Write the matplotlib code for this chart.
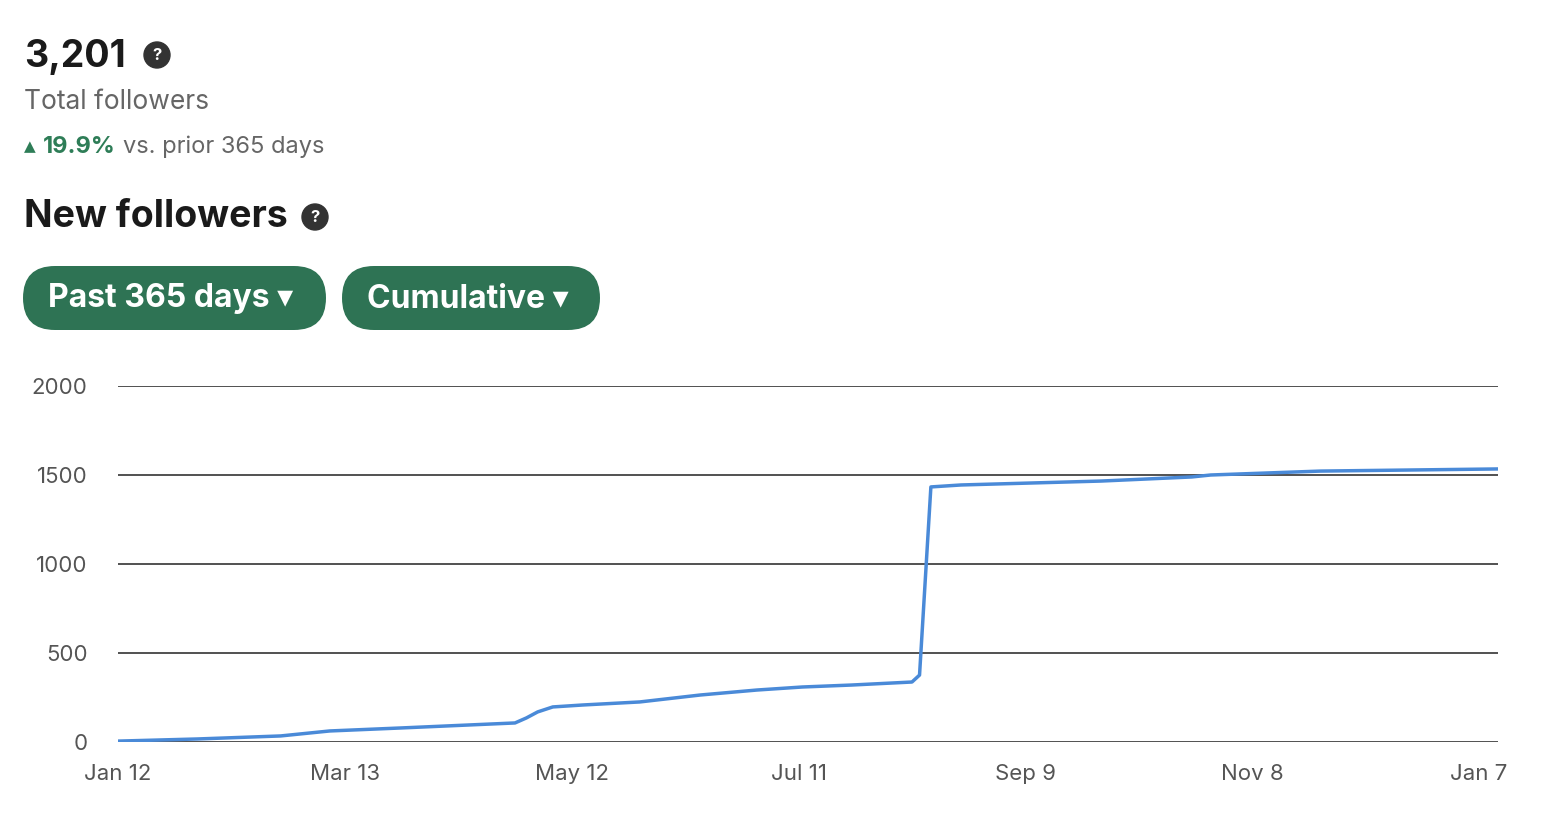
import matplotlib
matplotlib.use("Agg")
import matplotlib.pyplot as plt
from matplotlib.patches import FancyBboxPatch

days = [0, 21, 43, 56, 75, 105, 108, 111, 115, 123, 138, 154, 169, 181, 194, 210, 212, 215, 223, 260, 284, 289, 318, 365]
values = [5, 17, 34, 62, 79, 107, 135, 169, 197, 208, 225, 264, 292, 309, 320, 337, 376, 1433, 1444, 1466, 1489, 1500, 1522, 1534]
tick_days = [0, 60, 120, 180, 240, 300, 360]
tick_labels = ["Jan 12", "Mar 13", "May 12", "Jul 11", "Sep 9", "Nov 8", "Jan 7"]
y_ticks = [0, 500, 1000, 1500, 2000]

plt.rcParams['font.family'] = ['Inter', 'DejaVu Sans']
W, H = 1545, 825
fig = plt.figure(figsize=(15.45, 8.25), dpi=100)

ov = fig.add_axes([0, 0, 1, 1])
ov.set_xlim(0, W); ov.set_ylim(H, 0); ov.axis('off')

ov.text(24, 57, "3,201", fontsize=27, fontweight='bold', color='#1a1a1a', va='center')
ov.add_patch(plt.Circle((157, 55), 13, color='#333333'))
ov.text(157, 56, "?", fontsize=12, fontweight='bold', color='white', va='center', ha='center')
ov.text(24, 102, "Total followers", fontsize=19, color='#666666', va='center')
ov.text(24, 147, "▲", fontsize=11, color='#2e7d57', va='center', family=['DejaVu Sans'])
ov.text(43, 147, "19.9%", fontsize=17, fontweight='bold', color='#2e7d57', va='center')
ov.text(123, 147, "vs. prior 365 days", fontsize=17, color='#666666', va='center')
ov.text(24, 217, "New followers", fontsize=27, fontweight='bold', color='#1a1a1a', va='center')
ov.add_patch(plt.Circle((315, 217), 13, color='#333333'))
ov.text(315, 218, "?", fontsize=12, fontweight='bold', color='white', va='center', ha='center')

for x0, x1, label in [(23, 326, "Past 365 days"), (342, 600, "Cumulative")]:
    p = FancyBboxPatch((x0, 266), x1 - x0, 64, boxstyle="round,pad=0,rounding_size=32",
                       fc='#2e7354', ec='none')
    ov.add_patch(p)
    ov.text(x0 + 25, 299, label + " ▾", fontsize=23, fontweight='bold', color='white',
            va='center', family=['Inter', 'DejaVu Sans'])

ax = fig.add_axes([118 / W, 1 - 742 / H, (1498 - 118) / W, (742 - 386) / H])
ax.plot(days, values, color='#4a8ad8', lw=2.5, zorder=3)
ax.set_xlim(0, 365)
ax.set_ylim(0, 2000)
ax.set_yticks(y_ticks)
ax.set_xticks(tick_days)
ax.set_xticklabels(tick_labels)
ax.grid(axis='y', color='#333333', lw=1.2)
ax.set_axisbelow(True)
for s in ax.spines.values():
    s.set_visible(False)
ax.tick_params(length=0, labelsize=16, labelcolor='#555555')
ax.tick_params(axis='y', pad=22)
ax.tick_params(axis='x', pad=16)
fig.savefig("out.png", dpi=100, facecolor='white')
